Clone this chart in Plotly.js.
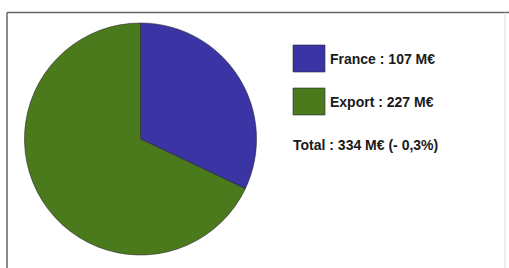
<!DOCTYPE html>
<html>
<head>
<meta charset="utf-8">
<script src="https://cdn.plot.ly/plotly-3.0.1.min.js"></script>
<style>html,body{margin:0;padding:0;background:#fff;}#chart{width:509px;height:268px;}</style>
</head>
<body>
<div id="chart"></div>
<script>
const categories = ["France", "Export"];
const values = [107, 227];
const colors = ["#3b34a4", "#4b7a1d"];
const unit = "M€";
const changeLabel = "- 0,3%";

const total = values.reduce((a, b) => a + b, 0);
const font = {family: "Liberation Sans, Arial, sans-serif", size: 14, color: "#1a1a1a"};

const trace = {
  type: "pie",
  labels: categories,
  values: values,
  sort: false,
  direction: "clockwise",
  rotation: 0,
  textinfo: "none",
  hoverinfo: "label+value",
  marker: {colors: colors, line: {color: "rgba(30,30,40,0.7)", width: 0.8}},
  domain: {x: [24.5/509, 256.5/509], y: [1 - 255.5/268, 1 - 22.5/268]},
  showlegend: false
};

const shapes = [
  {type: "line", xref: "paper", yref: "paper", x0: 7/509, x1: 1, y0: 1 - 12.5/268, y1: 1 - 12.5/268, line: {color: "#666", width: 1.5}},
  {type: "line", xref: "paper", yref: "paper", x0: 7/509, x1: 7/509, y0: 0, y1: 1 - 12.5/268, line: {color: "#666", width: 1.5}},
  {type: "line", xref: "paper", yref: "paper", x0: 505/509, x1: 505/509, y0: 0, y1: 1 - 12.5/268, line: {color: "#ddd", width: 1}}
];
const annotations = [];
const rowTop = [45, 88];
categories.forEach((c, i) => {
  const top = rowTop[i];
  shapes.push({type: "rect", xref: "paper", yref: "paper",
    x0: 293/509, x1: 325/509, y0: 1 - (top + 27)/268, y1: 1 - top/268,
    fillcolor: colors[i], line: {color: "rgba(40,40,60,0.6)", width: 1}});
  annotations.push({xref: "paper", yref: "paper", x: 328/509, y: 1 - (top + 14)/268,
    xanchor: "left", yanchor: "middle", showarrow: false, font: font,
    text: "<b>" + c + " : " + values[i] + " " + unit + "</b>"});
});
annotations.push({xref: "paper", yref: "paper", x: 291/509, y: 1 - 145/268,
  xanchor: "left", yanchor: "middle", showarrow: false, font: font,
  text: "<b>Total : " + total + " " + unit + " (" + changeLabel + ")</b>"});

Plotly.newPlot("chart", [trace], {
  width: 509, height: 268,
  margin: {l: 0, r: 0, t: 0, b: 0},
  paper_bgcolor: "#fff",
  shapes: shapes,
  annotations: annotations
}, {displayModeBar: false, staticPlot: true});
</script>
</body>
</html>
